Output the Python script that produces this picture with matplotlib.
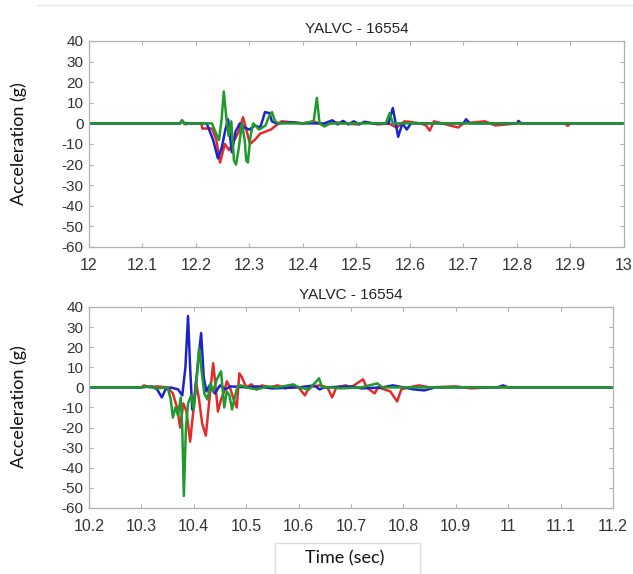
import numpy as np
import matplotlib
matplotlib.use("Agg")
import matplotlib.pyplot as plt
from matplotlib.patches import Rectangle
from matplotlib.lines import Line2D

# ---------------- data (time, accel g) ----------------
top_red = np.array([
    [12.0, 0], [12.170, 0], [12.174, 1.5], [12.178, 0], [12.210, 0], [12.212, -2.5],
    [12.230, -2.5], [12.238, -8], [12.245, -19], [12.254, -10], [12.262, -13],
    [12.270, -9], [12.280, -4], [12.288, 3], [12.295, -4], [12.301, -10],
    [12.310, -8], [12.320, -5], [12.330, -4], [12.340, -3], [12.350, -1],
    [12.360, 1], [12.380, 0.5], [12.400, 0], [12.420, 1], [12.440, -1],
    [12.460, 0.5], [12.480, 0], [12.500, -0.5], [12.520, 0.5], [12.540, -0.5],
    [12.560, 0], [12.575, -2], [12.590, 1], [12.620, 0], [12.630, -1],
    [12.637, -3.5], [12.645, 1], [12.660, 0], [12.690, -2], [12.700, 0],
    [12.740, 1], [12.760, -1], [12.800, 0], [12.890, 0], [12.895, -1.2],
    [12.900, 0], [13.0, 0]])
top_blue = np.array([
    [12.0, 0], [12.170, 0], [12.174, 1], [12.178, 0], [12.220, 0], [12.232, -8],
    [12.241, -17], [12.248, -12], [12.255, -3], [12.260, 2], [12.267, -14],
    [12.274, -4], [12.282, 0], [12.290, -2], [12.300, -3], [12.310, -1],
    [12.320, -2], [12.325, 2], [12.329, 5.5], [12.337, 5], [12.342, 1],
    [12.350, 0], [12.380, 0.5], [12.400, 0], [12.440, 0], [12.455, 1.5],
    [12.465, -0.5], [12.475, 1.2], [12.485, -0.5], [12.495, 1], [12.505, -0.5],
    [12.515, 0.8], [12.530, 0], [12.560, 0], [12.568, 7.5], [12.578, -6.5],
    [12.586, 0], [12.594, -3], [12.602, 0], [12.700, 0], [12.705, 2],
    [12.712, 0], [12.800, 0], [12.803, 1.2], [12.808, 0], [13.0, 0]])
top_green = np.array([
    [12.0, 0], [12.170, 0], [12.174, 1.5], [12.180, -0.5], [12.186, 0],
    [12.230, 0], [12.236, -4], [12.243, -8], [12.248, 2], [12.252, 15.5],
    [12.257, 2], [12.261, -6], [12.266, 1], [12.271, -18], [12.275, -20], [12.280, -12],
    [12.286, 0], [12.291, -8], [12.294, -18], [12.297, -19], [12.302, -6], [12.307, 0],
    [12.318, -3], [12.330, -1], [12.336, 3], [12.342, 5.5], [12.348, 1],
    [12.355, 0], [12.400, 0], [12.420, 1], [12.426, 12.4], [12.431, 0],
    [12.440, -1.5], [12.450, 0], [12.555, 0], [12.562, 5], [12.568, 0],
    [13.0, 0]])

bot_red = np.array([
    [10.2, 0], [10.300, 0], [10.305, 1], [10.315, 0], [10.330, 0.5], [10.350, 0],
    [10.360, -3], [10.368, -10], [10.374, -20], [10.380, -8], [10.386, -12],
    [10.393, -27], [10.399, -12], [10.404, 3], [10.410, -6], [10.416, -18],
    [10.423, -24], [10.429, -8], [10.437, 12], [10.441, 2], [10.446, -12],
    [10.452, -6], [10.458, -2], [10.463, 3], [10.469, 0], [10.476, -6],
    [10.482, -10], [10.487, 7], [10.492, 5], [10.500, 0], [10.510, 1.5],
    [10.520, -1], [10.530, 1], [10.545, 0], [10.560, 1], [10.575, -0.5],
    [10.590, 1], [10.600, 0], [10.612, -4], [10.620, 0], [10.640, 1],
    [10.655, 0], [10.664, -5], [10.672, 0], [10.690, 1], [10.700, 0],
    [10.723, 4], [10.730, 0], [10.745, -3], [10.752, 0], [10.775, -2],
    [10.788, -7], [10.796, -1], [10.810, 0], [10.830, 1], [10.850, 0],
    [10.900, 0.5], [10.930, -0.5], [10.960, 0], [11.2, 0]])
bot_blue = np.array([
    [10.2, 0], [10.300, 0], [10.320, 0.5], [10.330, -1], [10.339, -5],
    [10.346, -1], [10.355, 0], [10.370, -1], [10.378, -4], [10.384, 10],
    [10.389, 35.5], [10.393, 10], [10.397, -11], [10.402, -4], [10.408, 12],
    [10.414, 27], [10.419, 5], [10.424, -2], [10.430, 1], [10.440, -3],
    [10.450, 1], [10.460, -1], [10.470, 0.5], [10.500, 0], [10.520, 0.5],
    [10.550, -0.5], [10.600, 0], [10.630, 1], [10.640, -1], [10.650, 0],
    [10.700, 0.5], [10.720, -0.5], [10.760, 0], [10.780, 1], [10.800, 0],
    [10.820, -1], [10.840, -1.5], [10.860, 0], [10.980, 0], [10.990, 1],
    [11.000, 0], [11.2, 0]])
bot_green = np.array([
    [10.2, 0], [10.300, 0], [10.310, 0.5], [10.330, -0.5], [10.350, 0],
    [10.356, -6], [10.360, -15], [10.365, -10], [10.370, -14], [10.375, -5],
    [10.378, -20], [10.381, -54], [10.385, -20], [10.389, -8], [10.395, -4],
    [10.400, -11], [10.404, 0], [10.410, 19.5], [10.415, 8], [10.420, -3],
    [10.426, -6], [10.432, 2], [10.437, -2], [10.444, 4], [10.452, 8],
    [10.458, -10], [10.463, -2], [10.468, -4], [10.473, -11], [10.478, -5],
    [10.483, 0], [10.490, 1], [10.500, 0], [10.520, -1], [10.540, 0.5],
    [10.560, 0], [10.590, 1.5], [10.600, 0], [10.620, -1], [10.639, 4.5],
    [10.645, 0], [10.660, 0], [10.680, -0.5], [10.720, 0], [10.750, 2],
    [10.760, 0], [11.2, 0]])

title = "YALVC - 16554"
y_ticks = np.arange(-60, 41, 10)
top_xticks = [12, 12.1, 12.2, 12.3, 12.4, 12.5, 12.6, 12.7, 12.8, 12.9, 13]
top_xlabels = ["12", "12.1", "12.2", "12.3", "12.4", "12.5", "12.6", "12.7", "12.8", "12.9", "13"]
bot_xticks = [10.2, 10.3, 10.4, 10.5, 10.6, 10.7, 10.8, 10.9, 11, 11.1, 11.2]
bot_xlabels = ["10.2", "10.3", "10.4", "10.5", "10.6", "10.7", "10.8", "10.9", "11", "11.1", "11.2"]

RED, BLUE, GREEN = "#e22b2b", "#1c22cc", "#1f9a2c"

plt.rcParams['font.family'] = ['Liberation Sans', 'DejaVu Sans']
plt.rcParams['axes.unicode_minus'] = False

fig = plt.figure(figsize=(6.33, 5.74), dpi=100)
ax1 = fig.add_axes([0.1406, 0.5697, 0.845, 0.3589])
ax2 = fig.add_axes([0.1406, 0.1150, 0.8278, 0.3502])


def style(ax, data, xticks, xlabels):
    for d, c in zip(data, (RED, BLUE, GREEN)):
        ax.plot(d[:, 0], d[:, 1], color=c, lw=1.8, solid_joinstyle='round')
    ax.set_xlim(xticks[0], xticks[-1])
    ax.set_ylim(-60, 40)
    ax.set_yticks(y_ticks)
    ax.set_xticks(xticks)
    ax.set_xticklabels(xlabels)
    ax.tick_params(axis='x', direction='in', length=3, width=0.8, color='#b0b0b0',
                   top=True, labelsize=11.5, labelcolor='#333333', pad=8)
    ax.tick_params(axis='y', direction='in', length=3, width=0.8, color='#b0b0b0',
                   right=True, labelsize=11, labelcolor='#333333', pad=4)
    for s in ax.spines.values():
        s.set_color('#b0b0b0')
        s.set_linewidth(0.9)
    ax.set_title(title, fontsize=11, color='#222222', pad=6)


style(ax1, [top_red, top_blue, top_green], top_xticks, top_xlabels)
style(ax2, [bot_red, bot_blue, bot_green], bot_xticks, bot_xlabels)

# y labels (same text on both panels)
for yc in (1 - 144 / 574, 1 - 407 / 574):
    fig.text(0.030, yc, "Acceleration (g)", rotation=90, ha='center', va='center',
             fontsize=13, family=['Lato', 'DejaVu Sans'], color='#111111')

# x label in its own light box at the bottom
fig.patches.append(Rectangle((275 / 633, -0.01), 145 / 633, (574 - 543) / 574 + 0.01,
                             transform=fig.transFigure, fill=False,
                             edgecolor='#dcdcdc', lw=1.0))
fig.text(345 / 633, 1 - 558 / 574, "Time (sec)", ha='center', va='center',
         fontsize=13, family=['Lato', 'DejaVu Sans'], color='#111111')

# faint separator line at the top
fig.lines.append(Line2D([37 / 633, 1], [1 - 5 / 574, 1 - 5 / 574],
                        transform=fig.transFigure, color='#e6e6e6', lw=1.0))

fig.savefig("out.png", dpi=100)
